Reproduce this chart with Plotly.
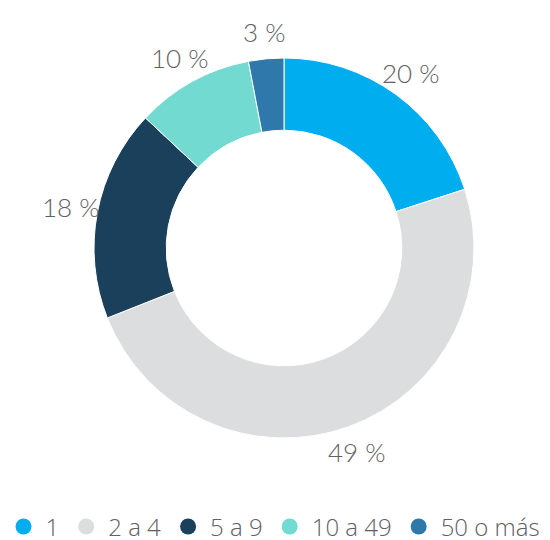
import math
import plotly.graph_objects as go

categories = ["1", "2 a 4", "5 a 9", "10 a 49", "50 o más"]
values = [20, 49, 18, 10, 3]
colors = ["#00AEEF", "#DCDDDE", "#1B405B", "#72DAD1", "#2F78AC"]

text_color = "#5f6062"
font_family = "Lato, 'Open Sans', sans-serif"
legend_family = "'Open Sans', Lato, sans-serif"

W, H = 550, 540
# the page body adds an 8px offset; the layout compensates for it
pie_x = [86 / W, 466 / W]

fig = go.Figure()
fig.add_trace(go.Pie(
    labels=categories,
    values=values,
    marker=dict(colors=colors, line=dict(color="white", width=1)),
    hole=0.62,
    sort=False,
    direction="clockwise",
    rotation=0,
    textinfo="none",
    showlegend=False,
    hoverinfo="label+value",
    domain=dict(x=pie_x, y=[0, 1]),
))

for c, col in zip(categories, colors):
    fig.add_trace(go.Scatter(
        x=[None], y=[None], mode="markers", name=c,
        marker=dict(color=col, size=19, symbol="circle"),
        showlegend=True, hoverinfo="skip",
    ))

# outside percentage labels, positioned from the slice mid-angles
cx = (pie_x[0] + pie_x[1]) / 2
rx = (pie_x[1] - pie_x[0]) / 2
total = sum(values)
cum = 0
k = 1.14
annotations = []
for v in values:
    mid = (cum + v / 2) / total * 2 * math.pi
    cum += v
    annotations.append(dict(
        x=cx + rx * k * math.sin(mid),
        y=0.5 + 0.5 * k * math.cos(mid),
        xref="paper", yref="paper",
        text=f"{v} %", showarrow=False,
        xanchor="center", yanchor="middle",
        font=dict(size=26, color=text_color, family=font_family, weight=300),
    ))

fig.update_layout(
    width=W, height=H,
    margin=dict(l=0, r=0, t=50, b=110, autoexpand=False),
    paper_bgcolor="white", plot_bgcolor="white",
    xaxis=dict(visible=False), yaxis=dict(visible=False),
    annotations=annotations,
    legend=dict(
        orientation="h", xref="paper", yref="paper",
        x=-6.5 / W, xanchor="left", y=-0.234, yanchor="middle",
        font=dict(size=24, color=text_color, family=legend_family, weight=300),
        itemsizing="trace", itemwidth=34,
    ),
    font=dict(family=font_family, color=text_color),
)

fig.write_html("out.html")
